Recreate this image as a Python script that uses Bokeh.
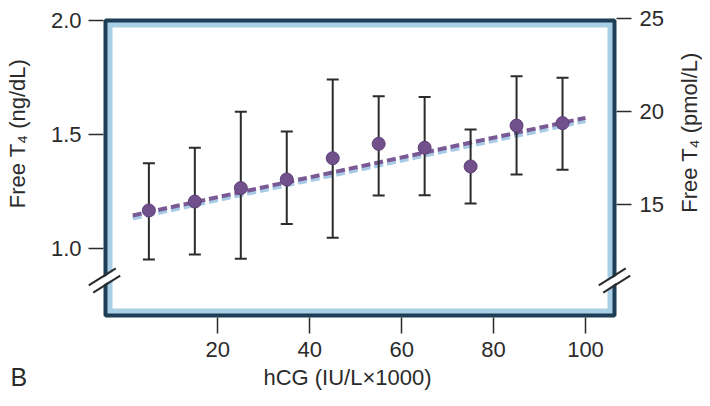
import math
from bokeh.plotting import figure
from bokeh.models import Range1d, LinearAxis, FixedTicker, ColumnDataSource, Label, NumeralTickFormatter
from bokeh.embed import file_html
from bokeh.resources import INLINE

# ---------------- data ----------------
hcg = [5, 15, 25, 35, 45, 55, 65, 75, 85, 95]
ft4_mean = [1.167, 1.206, 1.265, 1.303, 1.396, 1.459, 1.442, 1.360, 1.539, 1.550]
ft4_upper = [1.374, 1.442, 1.600, 1.513, 1.741, 1.668, 1.664, 1.522, 1.756, 1.749]
ft4_lower = [0.952, 0.974, 0.955, 1.107, 1.047, 1.232, 1.234, 1.197, 1.325, 1.345]
trend_x = [1.5, 100]
trend_purple = [1.145, 1.573]
trend_blue = [1.132, 1.559]
x_ticks = [20, 40, 60, 80, 100]
left_ticks = [1.0, 1.5, 2.0]
right_ticks = [15, 20, 25]

# ---------------- layout (pixels) ----------------
W, H = 702, 390
XPX0, XPXU = 125.4, 4.596       # pixel of x=0, pixels per x unit
YPX2, YPXU = 20.0, 228.0        # pixel of y=2.0, pixels per y unit
RPX25, RPXU = 18.3, 18.57       # pixel of r=25, pixels per r unit
BASE_SHIFT = 8.5                # Bokeh draws the alphabetic baseline this far below the anchor

def px_x(px):
    return (px - XPX0) / XPXU

def px_y(py):
    return 2.0 - (py - YPX2) / YPXU

X_START, X_END = px_x(0), px_x(W)
Y_START, Y_END = px_y(H), px_y(0)
R_START, R_END = 25 - (H - RPX25) / RPXU, 25 + RPX25 / RPXU

DARK = "#1c3f57"
LIGHT = "#a9cfe5"
PURPLE = "#71508b"
PURPLE_LINE = "#7a5a95"
BLUE_LINE = "#a7cbe6"
TXT = "#2b2b2b"
FONT = "Liberation Sans"

p = figure(width=W, height=H, output_backend="svg", toolbar_location=None,
           x_range=Range1d(X_START, X_END), y_range=Range1d(Y_START, Y_END),
           min_border=0, min_border_left=0, min_border_right=0,
           min_border_top=0, min_border_bottom=0,
           background_fill_color="white", border_fill_color="white",
           outline_line_color=None)
p.grid.visible = False
p.extra_y_ranges = {"r": Range1d(R_START, R_END)}

# framed panel: dark border, light-blue band, white interior
p.quad(left=[px_x(105)], right=[px_x(614)], top=[px_y(20)], bottom=[px_y(315)],
       fill_color=LIGHT, line_color=DARK, line_width=4)
p.quad(left=[px_x(112)], right=[px_x(607)], top=[px_y(27)], bottom=[px_y(308)],
       fill_color="white", line_color=None)

# axis break marks
def brk(cx, cy):
    ux, uy = 13.5, -8.5
    nx, ny = 0.533 * 4.2, 0.846 * 4.2
    p.segment(x0=[px_x(cx - ux)], y0=[px_y(cy - uy)], x1=[px_x(cx + ux)], y1=[px_y(cy + uy)],
              line_color="white", line_width=6)
    for s in (-1, 1):
        ox, oy = cx + s * nx, cy + s * ny
        p.segment(x0=[px_x(ox - ux)], y0=[px_y(oy - uy)], x1=[px_x(ox + ux)], y1=[px_y(oy + uy)],
                  line_color=TXT, line_width=2)

brk(104, 280)
brk(614, 280)

# trend lines
p.line(trend_x, trend_blue, line_color=BLUE_LINE, line_width=4, line_dash="9 4")
p.line(trend_x, trend_purple, line_color=PURPLE_LINE, line_width=4, line_dash="9 4")

# error bars
src = ColumnDataSource(dict(x=hcg, mean=ft4_mean, upper=ft4_upper, lower=ft4_lower))
p.segment(x0="x", y0="lower", x1="x", y1="upper", source=src, line_color=TXT, line_width=2)
p.scatter(x="x", y="upper", source=src, marker="dash", size=12, line_color=TXT, line_width=2)
p.scatter(x="x", y="lower", source=src, marker="dash", size=12, line_color=TXT, line_width=2)

# points
p.scatter(x="x", y="mean", source=src, marker="circle", size=13,
          fill_color=PURPLE, line_color="#5e3f78", line_width=1)

def style(ax, tick_out, standoff):
    ax.axis_line_color = None
    ax.major_tick_out = tick_out
    ax.major_tick_in = 0
    ax.minor_tick_line_color = None
    ax.major_tick_line_color = TXT
    ax.major_tick_line_width = 1.5
    ax.major_label_text_font = FONT
    ax.major_label_text_font_size = "22px"
    ax.major_label_text_color = TXT
    ax.major_label_standoff = standoff

xa = p.xaxis[0]
xa.ticker = FixedTicker(ticks=x_ticks)
xa.fixed_location = px_y(317)
style(xa, 16, 8)

ya = p.yaxis[0]
ya.ticker = FixedTicker(ticks=left_ticks)
ya.formatter = NumeralTickFormatter(format="0.0")
ya.fixed_location = px_x(103)
style(ya, 15, 7)

right = LinearAxis(y_range_name="r", ticker=FixedTicker(ticks=right_ticks))
right.fixed_location = px_x(616)
style(right, 15, 8)
p.add_layout(right, "right")

# axis titles (positions are where the text baseline should land, in pixels)
def title(bx, by, text, rotated=False, size="22px", align="center"):
    if rotated:
        ax_, ay_ = bx - BASE_SHIFT, by
    else:
        ax_, ay_ = bx, by - BASE_SHIFT
    p.add_layout(Label(x=px_x(ax_), y=px_y(ay_), text=text,
                       angle=math.pi / 2 if rotated else 0.0, text_align=align,
                       text_baseline="alphabetic", text_font=FONT,
                       text_font_size=size, text_color=TXT))

title(25, 133, "Free T\u2084 (ng/dL)", rotated=True)
title(697, 132, "Free T\u2084 (pmol/L)", rotated=True)
title(347, 385, "hCG (IU/L\u00d71000)")
title(10, 385, "B", size="25px", align="left")

open("out.html", "w").write(file_html(p, INLINE))
